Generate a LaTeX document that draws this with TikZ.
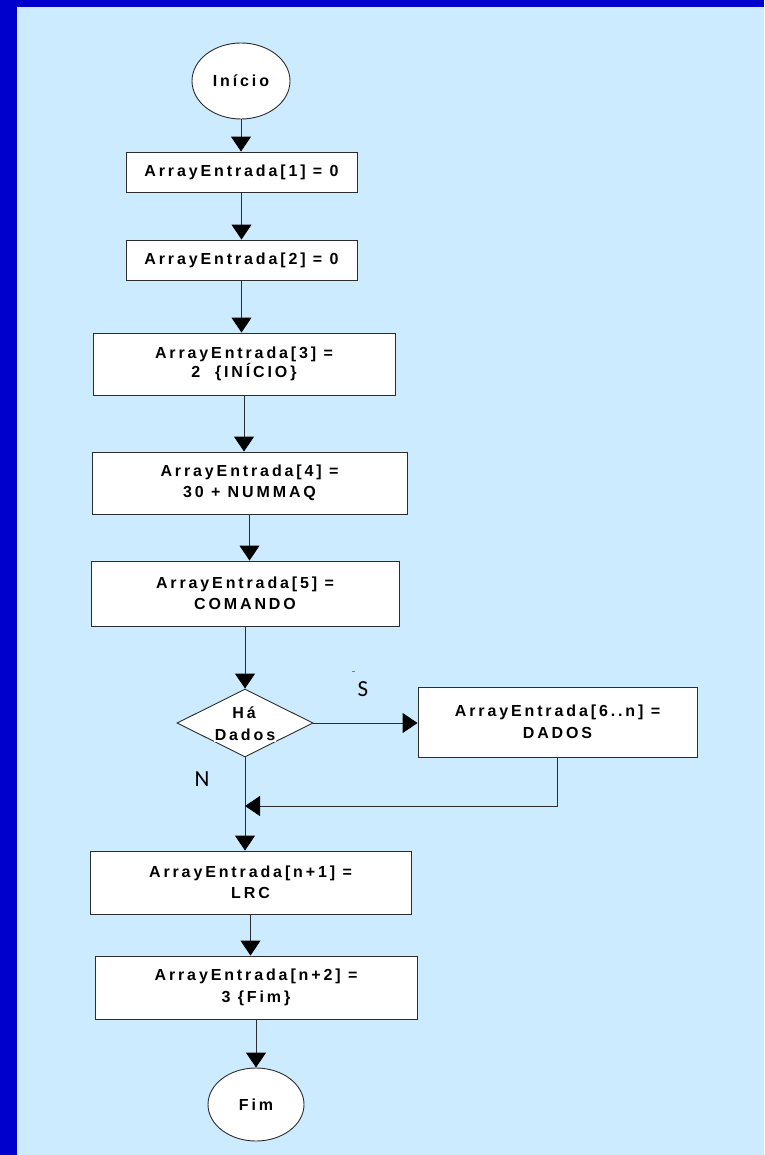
\documentclass[tikz,border=0pt]{standalone}
\usepackage{fontspec}
\setmainfont{Liberation Sans}
\newfontfamily\flowfont[LetterSpace=18]{Liberation Sans}
\newfontfamily\labelfont{Carlito}
\usetikzlibrary{shapes.geometric,arrows.meta}
\definecolor{pagebg}{RGB}{204,235,255}
\definecolor{frameblue}{RGB}{0,0,204}
\definecolor{edgegray}{RGB}{45,45,45}
\begin{document}
\begin{tikzpicture}[x=1pt,y=-1pt,
  txt/.style={font=\flowfont\bfseries\fontsize{16}{21.5}\selectfont, align=center},
  procbox/.style={txt, draw=edgegray, line width=0.9pt, fill=white, rectangle, inner sep=0pt},
  terminal/.style={txt, draw=edgegray, line width=0.9pt, fill=white, ellipse, inner sep=0pt},
  decision/.style={draw=edgegray, line width=0.9pt, fill=white, diamond, inner sep=0pt},
  flow/.style={draw=edgegray, line width=1pt, -{Triangle[width=20pt,length=15pt,fill=black,color=black]}},
  plainline/.style={draw=edgegray, line width=1pt},
  branch/.style={font=\labelfont\fontsize{23}{23}\selectfont, inner sep=0pt}
]
% page background and frame
\useasboundingbox (0,0) rectangle (764,1155);
\fill[pagebg] (0,0) rectangle (764,1155);
\fill[frameblue] (0,0) rectangle (764,7.5);
\fill[frameblue] (0,0) rectangle (16.5,1155);

% steps
\node[terminal, minimum width=98pt, minimum height=76pt] (inicio) at (241,81) {Início};
\node[procbox, minimum width=231pt, minimum height=40pt] (a1) at (241.5,172) {ArrayEntrada[1] = 0};
\node[procbox, minimum width=231pt, minimum height=40pt] (a2) at (241.5,260) {ArrayEntrada[2] = 0};
\node[procbox, minimum width=302pt, minimum height=62pt, font=\flowfont\bfseries\fontsize{16}{17}\selectfont] (a3) at (244,364) {ArrayEntrada[3] =\\2\ \ {\{}INÍCIO{\}}};
\node[procbox, minimum width=315pt, minimum height=62pt] (a4) at (249.5,483) {ArrayEntrada[4] =\\30 + NUMMAQ};
\node[procbox, minimum width=308pt, minimum height=65pt] (a5) at (245,593.5) {ArrayEntrada[5] =\\COMANDO};
\node[decision, minimum width=136pt, minimum height=68pt, aspect=2] (dec) at (245,723) {};
\node[txt, inner sep=0pt] (decA) at (244,713) {Há};
\node[txt, inner sep=1pt, fill=white] (decB) at (245,735) {Dados};
\node[procbox, minimum width=279pt, minimum height=70pt] (a6) at (557.5,722) {ArrayEntrada[6..n] =\\DADOS};
\node[procbox, minimum width=321pt, minimum height=63pt] (an1) at (250.5,882.5) {ArrayEntrada[n+1] =\\LRC};
\node[procbox, minimum width=322pt, minimum height=63pt] (an2) at (256,987.5) {ArrayEntrada[n+2] =\\3 {\{}Fim{\}}};
\node[terminal, minimum width=96pt, minimum height=73pt] (fim) at (256,1104.5) {Fim};

% branch labels
\node[branch] (lblS) at (363,689) {S};
\node[branch] (lblN) at (202,779) {N};
\draw[gray, line width=0.6pt] (351.5,671) -- (354.5,671);

% connectors
\coordinate (join) at (245,806);
\draw[flow] (inicio.south) -- (inicio.south |- a1.north);
\draw[flow] (a1.south) -- (a1.south |- a2.north);
\draw[flow] (a2.south) -- (a2.south |- a3.north);
\draw[flow] (a3.south) -- (a3.south |- a4.north);
\draw[flow] (a4.south) -- (a4.south |- a5.north);
\draw[flow] (a5.south) -- (a5.south |- dec.north);
\draw[flow] (dec.east) -- (dec.east -| a6.west);
\draw[plainline] (dec.south) -- (join);
\draw[flow] (join) -- (join |- an1.north);
\draw[flow] (a6.south) |- (join);
\draw[flow] (an1.south) -- (an1.south |- an2.north);
\draw[flow] (an2.south) -- (an2.south |- fim.north);
\end{tikzpicture}
\end{document}
